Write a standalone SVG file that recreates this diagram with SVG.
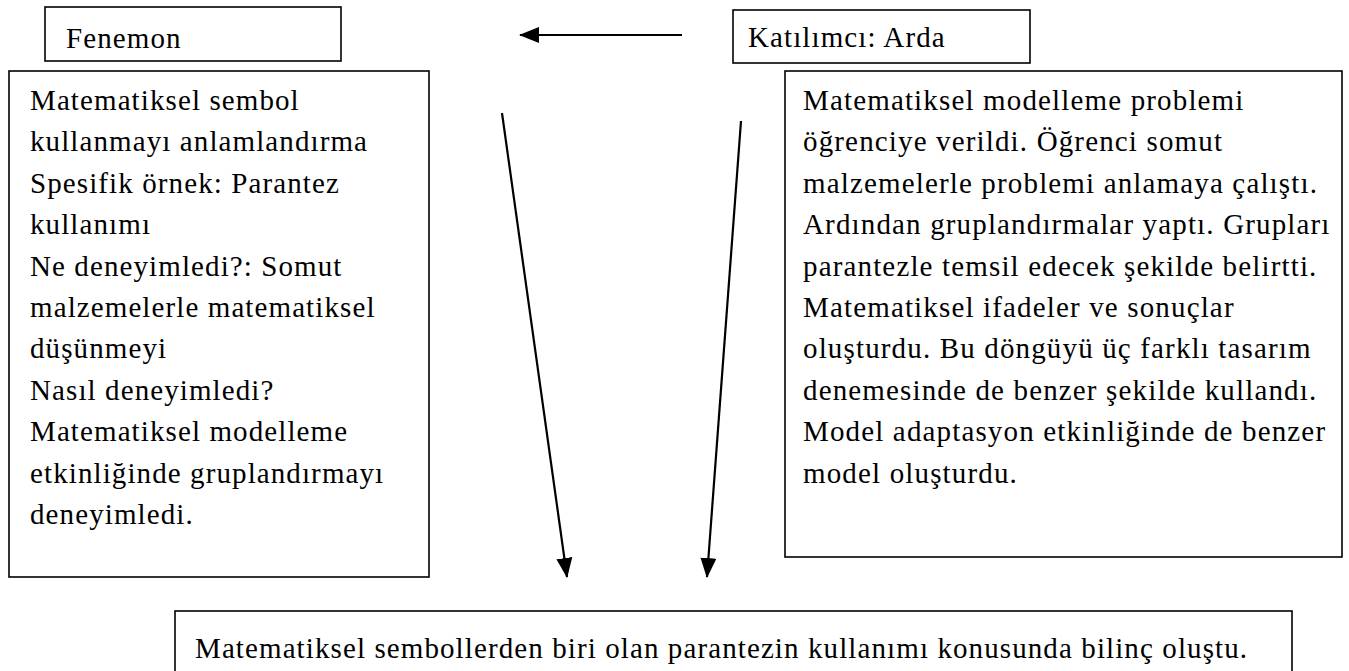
<svg xmlns="http://www.w3.org/2000/svg" width="1349" height="671" viewBox="0 0 1349 671">
<defs>
<style>
.box{fill:#fff;stroke:#000;stroke-width:1.6}
.t{font-family:"Liberation Serif","Times New Roman",serif;font-size:29px;letter-spacing:1.1px;fill:#000}
.wide{letter-spacing:1.15px}
.conn{stroke:#000;stroke-width:2.2;fill:none}
</style>
<marker id="ah" markerUnits="userSpaceOnUse" markerWidth="20" markerHeight="20" viewBox="0 0 20 20" refX="19" refY="10" orient="auto">
<path d="M0,2 L20,10 L0,18 Z" fill="#000"/>
</marker>
</defs>
<rect width="1349" height="671" fill="#fff"/>
<g id="fenemon">
<rect class="box" x="45" y="7" width="296" height="54"/>
<text class="t" x="66" y="48">Fenemon</text>
</g>
<g id="katilimci">
<rect class="box" x="733" y="10" width="297" height="53"/>
<text class="t" x="748" y="47">Katılımcı: Arda</text>
</g>
<g id="left-box">
<rect class="box" x="9" y="71" width="420" height="506"/>
<text class="t">
<tspan x="30" y="110">Matematiksel sembol</tspan>
<tspan x="30" y="151.4">kullanmayı anlamlandırma</tspan>
<tspan x="30" y="192.8">Spesifik örnek: Parantez</tspan>
<tspan x="30" y="234.2">kullanımı</tspan>
<tspan x="30" y="275.6">Ne deneyimledi?: Somut</tspan>
<tspan x="30" y="317">malzemelerle matematiksel</tspan>
<tspan x="30" y="358.4">düşünmeyi</tspan>
<tspan x="30" y="399.8">Nasıl deneyimledi?</tspan>
<tspan x="30" y="441.2">Matematiksel modelleme</tspan>
<tspan x="30" y="482.6">etkinliğinde gruplandırmayı</tspan>
<tspan x="30" y="524">deneyimledi.</tspan>
</text>
</g>
<g id="right-box">
<rect class="box" x="785" y="71" width="557" height="486"/>
<text class="t wide">
<tspan x="803" y="110">Matematiksel modelleme problemi</tspan>
<tspan x="803" y="151.4">öğrenciye verildi. Öğrenci somut</tspan>
<tspan x="803" y="192.8">malzemelerle problemi anlamaya çalıştı.</tspan>
<tspan x="803" y="234.2">Ardından gruplandırmalar yaptı. Grupları</tspan>
<tspan x="803" y="275.6">parantezle temsil edecek şekilde belirtti.</tspan>
<tspan x="803" y="317">Matematiksel ifadeler ve sonuçlar</tspan>
<tspan x="803" y="358.4">oluşturdu. Bu döngüyü üç farklı tasarım</tspan>
<tspan x="803" y="399.8">denemesinde de benzer şekilde kullandı.</tspan>
<tspan x="803" y="441.2">Model adaptasyon etkinliğinde de benzer</tspan>
<tspan x="803" y="482.6">model oluşturdu.</tspan>
</text>
</g>
<g id="result">
<rect class="box" x="175" y="611" width="1117" height="80"/>
<text class="t" x="195" y="658">Matematiksel sembollerden biri olan parantezin kullanımı konusunda bilinç oluştu.</text>
</g>
<g id="connectors">
<line class="conn" x1="682" y1="35" x2="520" y2="35" marker-end="url(#ah)"/>
<line class="conn" x1="502" y1="113" x2="567" y2="577" marker-end="url(#ah)"/>
<line class="conn" x1="741" y1="121" x2="707" y2="577" marker-end="url(#ah)"/>
</g>
</svg>
